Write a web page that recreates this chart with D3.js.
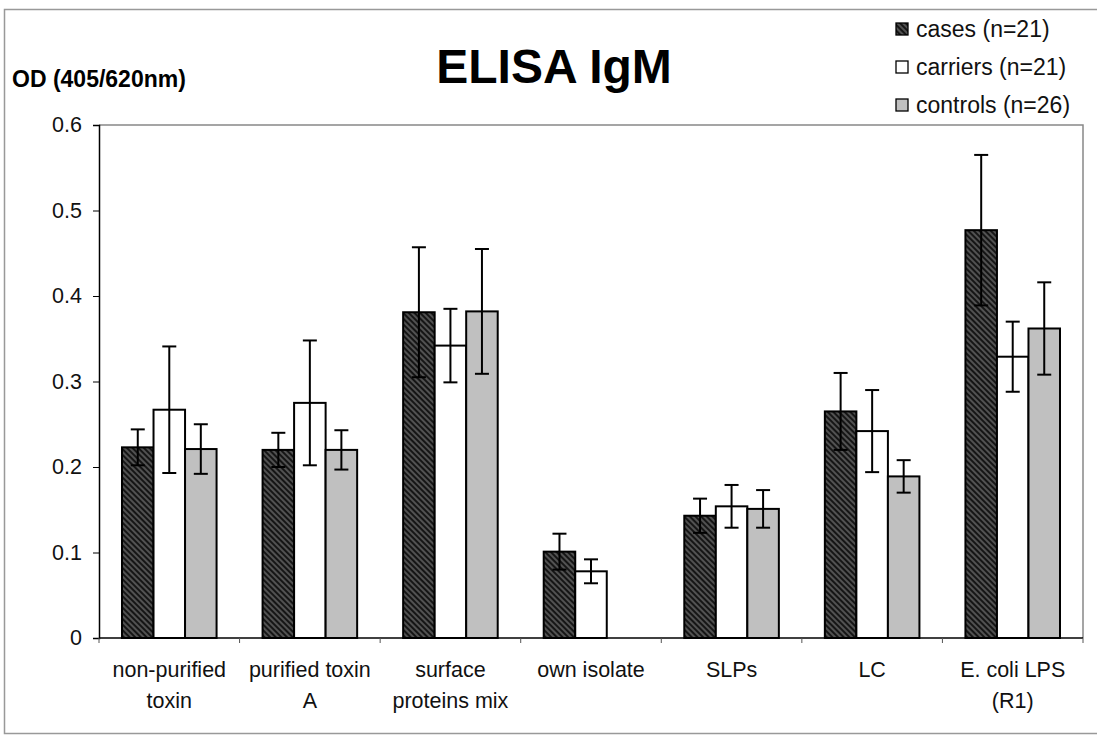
<!DOCTYPE html>
<html lang="en">
<head>
    <meta charset="UTF-8">
    <title>ELISA IgM</title>
    <script src="https://d3js.org/d3.v7.min.js"></script>
    <style>
        body { margin: 0; background: #fff; }
        svg { display: block; font-family: Arial, "Liberation Sans", sans-serif; }
    </style>
</head>
<body>
    <div id="chart"></div>

    <script>
        // Data
        const categories = ["non-purified toxin", "purified toxin A", "surface proteins mix",
                            "own isolate", "SLPs", "LC", "E. coli LPS (R1)"];
        const categoryLines = [["non-purified", "toxin"], ["purified toxin", "A"], ["surface", "proteins mix"],
                               ["own isolate"], ["SLPs"], ["LC"], ["E. coli LPS", "(R1)"]];
        const seriesNames = ["cases (n=21)", "carriers (n=21)", "controls (n=26)"];
        const casesMean    = [0.223, 0.220, 0.381, 0.101, 0.143, 0.265, 0.477];
        const casesErr     = [0.021, 0.020, 0.076, 0.021, 0.020, 0.045, 0.088];
        const carriersMean = [0.267, 0.275, 0.342, 0.078, 0.154, 0.242, 0.329];
        const carriersErr  = [0.074, 0.073, 0.043, 0.014, 0.025, 0.048, 0.041];
        const controlsMean = [0.221, 0.220, 0.382, null, 0.151, 0.189, 0.362];
        const controlsErr  = [0.029, 0.023, 0.073, null, 0.022, 0.019, 0.054];
        const yTicks = [0, 0.1, 0.2, 0.3, 0.4, 0.5, 0.6];

        const W = 1097, H = 737;
        const plot = {left: 99, right: 1083, top: 125, bottom: 638};

        const svg = d3.select("#chart").append("svg")
            .attr("width", W)
            .attr("height", H);

        // hatch for the cases bars
        const defs = svg.append("defs");
        const pat = defs.append("pattern")
            .attr("id", "hatch")
            .attr("patternUnits", "userSpaceOnUse")
            .attr("width", 4)
            .attr("height", 4)
            .attr("patternTransform", "rotate(-45)");
        pat.append("rect").attr("width", 4).attr("height", 4).attr("fill", "#151515");
        pat.append("line").attr("x1", 1).attr("x2", 1).attr("y1", 0).attr("y2", 4)
            .attr("stroke", "#7a7a7a").attr("stroke-width", 1.2);

        const fills = ["url(#hatch)", "#ffffff", "#c0c0c0"];

        // outer frame
        svg.append("rect")
            .attr("x", 4.5).attr("y", 9.5)
            .attr("width", W - 3).attr("height", 724)
            .attr("fill", "none")
            .attr("stroke", "#999")
            .attr("stroke-width", 1.5);

        // scales
        const x0 = d3.scaleBand()
            .domain(categories)
            .range([plot.left, plot.right]);

        const x1 = d3.scaleBand()
            .domain(seriesNames)
            .range([23, x0.bandwidth() - 23]);

        const y = d3.scaleLinear()
            .domain([0, 0.6])
            .range([plot.bottom, plot.top]);

        // plot area border (top + right)
        svg.append("path")
            .attr("d", `M${plot.left},${plot.top}H${plot.right}V${plot.bottom}`)
            .attr("fill", "none")
            .attr("stroke", "#888")
            .attr("stroke-width", 1.5);

        // y axis
        const yAxis = d3.axisLeft(y)
            .tickValues(yTicks)
            .tickFormat(d => d === 0 ? "0" : d3.format(".1f")(d))
            .tickSize(6)
            .tickPadding(11);

        const gY = svg.append("g")
            .attr("transform", `translate(${plot.left},0)`)
            .call(yAxis);
        gY.select(".domain").attr("stroke", "#000").attr("stroke-width", 1.5);
        gY.selectAll(".tick line").attr("stroke", "#000").attr("stroke-width", 1);
        gY.selectAll(".tick text")
            .attr("font-size", 21.5)
            .attr("fill", "#111");

        // bars
        const rows = categories.map((c, i) => ({
            cat: c,
            vals: [
                {s: seriesNames[0], k: 0, m: casesMean[i], e: casesErr[i]},
                {s: seriesNames[1], k: 1, m: carriersMean[i], e: carriersErr[i]},
                {s: seriesNames[2], k: 2, m: controlsMean[i], e: controlsErr[i]}
            ].filter(d => d.m != null)
        }));

        const groups = svg.append("g").selectAll("g")
            .data(rows)
            .join("g")
                .attr("transform", d => `translate(${x0(d.cat)},0)`);

        groups.selectAll("rect")
            .data(d => d.vals)
            .join("rect")
                .attr("x", d => x1(d.s))
                .attr("y", d => y(d.m))
                .attr("width", x1.bandwidth())
                .attr("height", d => y(0) - y(d.m))
                .attr("fill", d => fills[d.k])
                .attr("stroke", "#000")
                .attr("stroke-width", 2);

        // error bars
        const errs = groups.selectAll("g.err")
            .data(d => d.vals)
            .join("g")
                .attr("class", "err")
                .attr("transform", d => `translate(${x1(d.s) + x1.bandwidth() / 2},0)`);

        errs.append("line")
            .attr("y1", d => y(d.m - d.e))
            .attr("y2", d => y(d.m + d.e))
            .attr("stroke", "#000").attr("stroke-width", 2);
        errs.append("line")
            .attr("x1", -7).attr("x2", 7)
            .attr("y1", d => y(d.m + d.e)).attr("y2", d => y(d.m + d.e))
            .attr("stroke", "#000").attr("stroke-width", 2);
        errs.append("line")
            .attr("x1", -7).attr("x2", 7)
            .attr("y1", d => y(d.m - d.e)).attr("y2", d => y(d.m - d.e))
            .attr("stroke", "#000").attr("stroke-width", 2);

        // x axis
        svg.append("line")
            .attr("x1", plot.left).attr("x2", plot.right)
            .attr("y1", plot.bottom).attr("y2", plot.bottom)
            .attr("stroke", "#000").attr("stroke-width", 1.5);

        const boundaries = categories.map(c => x0(c)).concat([plot.right]);
        svg.append("g").selectAll("line")
            .data(boundaries)
            .join("line")
                .attr("x1", d => d).attr("x2", d => d)
                .attr("y1", plot.bottom).attr("y2", plot.bottom + 5)
                .attr("stroke", "#555").attr("stroke-width", 1);

        svg.append("g").selectAll("text")
            .data(categories)
            .join("text")
                .attr("x", d => x0(d) + x0.bandwidth() / 2)
                .attr("y", 677)
                .attr("text-anchor", "middle")
                .attr("font-size", 21.5)
                .attr("fill", "#111")
                .selectAll("tspan")
                .data((d, i) => categoryLines[i])
                .join("tspan")
                    .attr("x", function() { return this.parentNode.getAttribute("x"); })
                    .attr("dy", (d, j) => j === 0 ? 0 : 31)
                    .text(d => d);

        // titles
        svg.append("text")
            .attr("x", 554)
            .attr("y", 83)
            .attr("text-anchor", "middle")
            .attr("font-size", 48)
            .attr("font-weight", "bold")
            .attr("fill", "#000")
            .text("ELISA IgM");

        svg.append("text")
            .attr("x", 12)
            .attr("y", 87)
            .attr("font-size", 23)
            .attr("font-weight", "bold")
            .attr("fill", "#000")
            .text("OD (405/620nm)");

        // legend
        const legend = svg.append("g").selectAll("g")
            .data(seriesNames)
            .join("g")
                .attr("transform", (d, i) => `translate(896,${29 + i * 38})`);

        legend.append("rect")
            .attr("x", 0).attr("y", -6)
            .attr("width", 12).attr("height", 12)
            .attr("fill", (d, i) => fills[i])
            .attr("stroke", "#000")
            .attr("stroke-width", 1.3);

        legend.append("text")
            .attr("x", 20)
            .attr("y", 0)
            .attr("dy", "0.36em")
            .attr("font-size", 23)
            .attr("fill", "#111")
            .text(d => d);
    </script>
</body>
</html>
